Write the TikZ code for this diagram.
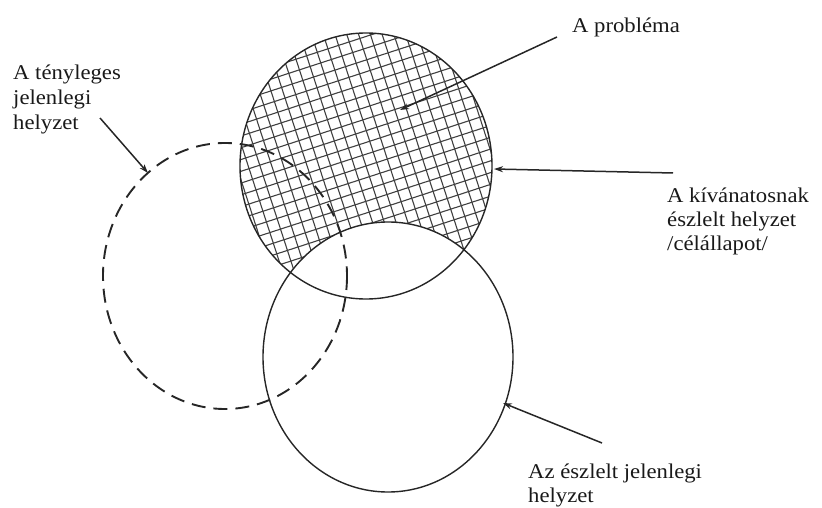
\documentclass[tikz,border=0pt]{standalone}
\usepackage{fontspec}
\setmainfont[FakeStretch=1.08]{Liberation Serif}
\usetikzlibrary{arrows.meta}
\tikzset{
  lbl/.style={anchor=base west, inner sep=0pt, font=\fontsize{21pt}{24pt}\selectfont, text=black!90},
  ring/.style={line width=1.4pt, draw=black!85},
  dashring/.style={line width=1.9pt, draw=black!85, dash pattern=on 14pt off 8pt},
  hatch/.style={line width=1.1pt, draw=black!75},
  ptr/.style={line width=1.5pt, draw=black!85, -{Stealth[length=9pt,width=6pt]}}
}
\begin{document}
\begin{tikzpicture}[x=1pt,y=-1pt]
\useasboundingbox (0,0) rectangle (822,508);
% centres
\coordinate (cTop) at (366,166);
\coordinate (cBot) at (388,357);
\coordinate (cDash) at (225,276);
% hatched region: top circle minus bottom circle
\begin{scope}[even odd rule]
  \clip (cTop) ellipse [x radius=126, y radius=133];
  \clip (cBot) ellipse [x radius=125, y radius=135] (-10,-10) rectangle (832,518);
  \begin{scope}[shift={(cTop)}, rotate=18]
    \foreach \i in {-16,...,16} {
      \draw[hatch] (\i*11.2,-220) -- (\i*11.2,220);
      \draw[hatch] (-220,\i*11.2) -- (220,\i*11.2);
    }
  \end{scope}
\end{scope}
% circles
\draw[ring] (cTop) ellipse [x radius=126, y radius=133];
\draw[ring] (cBot) ellipse [x radius=125, y radius=135];
\draw[dashring] (cDash) ellipse [x radius=122, y radius=133];
% labels
\node[lbl] (lProb) at (572,33) {A probléma};
\node[lbl] (lTeny) at (13,80) {\begin{tabular}[t]{@{}l@{}}A tényleges\\[1pt] jelenlegi\\[1pt] helyzet\end{tabular}};
\node[lbl] (lKiv) at (667,202) {\begin{tabular}[t]{@{}l@{}}A kívánatosnak\\ észlelt helyzet\\ /célállapot/\end{tabular}};
\node[lbl] (lEsz) at (528,478) {\begin{tabular}[t]{@{}l@{}}Az észlelt jelenlegi\\ helyzet\end{tabular}};
% arrow end points
\coordinate (aProbS) at (557,37);
\coordinate (aProbE) at (400,110);
\coordinate (aTenyS) at (100,118);
\coordinate (aTenyE) at (148,173);
\coordinate (aKivS) at (673,173);
\coordinate (aKivE) at (494,169);
\coordinate (aEszS) at (602,443);
\coordinate (aEszE) at (503,403);
\draw[ptr] (aProbS) -- (aProbE);
\draw[ptr] (aTenyS) -- (aTenyE);
\draw[ptr] (aKivS) -- (aKivE);
\draw[ptr] (aEszS) -- (aEszE);
\end{tikzpicture}
\end{document}
